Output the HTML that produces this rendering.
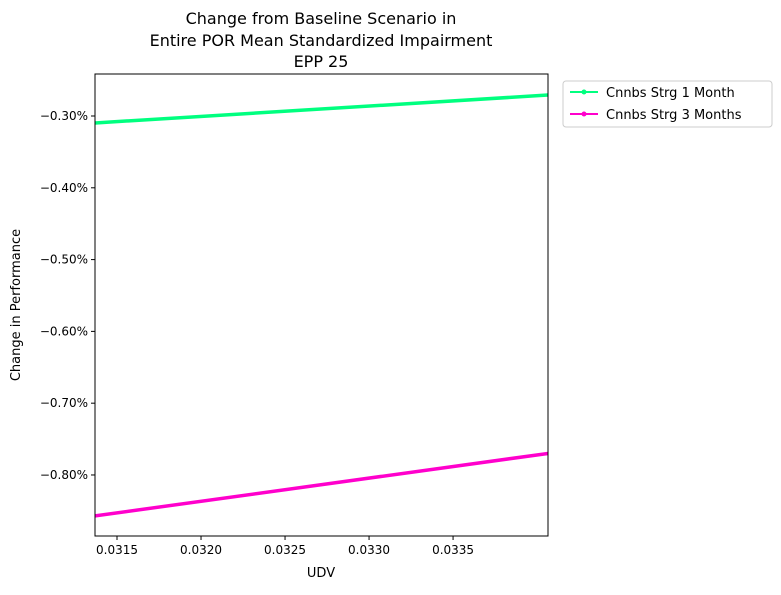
<!DOCTYPE html>
<html><head><meta charset="utf-8"><style>
body{margin:0;background:#fff;font-family:"Liberation Sans","DejaVu Sans",sans-serif;}
svg text{font-family:"DejaVu Sans","Liberation Sans",sans-serif;fill:#000;}
</style></head><body>
<svg id="chart" width="781" height="590" xmlns="http://www.w3.org/2000/svg">
<text x="321" y="24" font-size="16" text-anchor="middle">Change from Baseline Scenario in</text>
<text x="321" y="46" font-size="16" text-anchor="middle">Entire POR Mean Standardized Impairment</text>
<text x="321" y="67" font-size="16" text-anchor="middle">EPP 25</text>
<g id="plot"></g>
<text x="321" y="577" font-size="13" text-anchor="middle">UDV</text>
<text transform="translate(20,305) rotate(-90)" font-size="13" text-anchor="middle">Change in Performance</text>
<g>
<rect x="563" y="81" width="209" height="46" fill="#fff" stroke="#ccc" rx="3"/>
<g>
<line x1="570" y1="92" x2="598" y2="92" stroke="#00ff7f" stroke-width="2"/><circle cx="584" cy="92" r="2.5" fill="#00ff7f"/>
<text x="606" y="97" font-size="13">Cnnbs Strg 1 Month</text></g>
<g>
<line x1="570" y1="114" x2="598" y2="114" stroke="#ff00cc" stroke-width="2"/><circle cx="584" cy="114" r="2.5" fill="#ff00cc"/>
<text x="606" y="119" font-size="13">Cnnbs Strg 3 Months</text></g>
</g>
</svg>
<script>
const xValues=[0.031369,0.034065];
const series1Month=[-0.3097,-0.2708];
const series3Months=[-0.857,-0.770];
const xTicks=[0.0315,0.0320,0.0325,0.0330,0.0335];
const yTicks=[-0.3,-0.4,-0.5,-0.6,-0.7,-0.8];
const L=95,R=548,T=74,B=536;
const xMin=0.031369,xMax=0.034065,yMin=-0.8850,yMax=-0.2415;
const sx=v=>L+(v-xMin)/(xMax-xMin)*(R-L);
const sy=v=>B-(v-yMin)/(yMax-yMin)*(B-T);
const NS="http://www.w3.org/2000/svg";
const g=document.getElementById('plot');
function mk(t,a){const e=document.createElementNS(NS,t);for(const k in a)e.setAttribute(k,a[k]);g.appendChild(e);return e;}
xTicks.forEach(v=>{const x=sx(v);
const l=mk('line',{x1:x,y1:B,x2:x,y2:B+4,stroke:'#000'});


const t=mk('text',{x:x,y:B+18,'font-size':12,'text-anchor':'middle'});t.textContent=v.toFixed(4);

});
yTicks.forEach(v=>{const y=sy(v);
const l=mk('line',{x1:L-4,y1:y,x2:L,y2:y,stroke:'#000'});


const t=mk('text',{x:L-7,y:y+4,'font-size':12,'text-anchor':'end'});t.textContent='\u2212'+Math.abs(v).toFixed(2)+'%';

});
function line(vals,color,name){const p=mk('polyline',{points:xValues.map((x,i)=>sx(x)+','+sy(vals[i])).join(' '),fill:'none',stroke:color,'stroke-width':3.5,'clip-path':'url(#clip)'});

}
const defs=mk('defs',{});const cp=document.createElementNS(NS,'clipPath');cp.setAttribute('id','clip');
const cr=document.createElementNS(NS,'rect');cr.setAttribute('x',L);cr.setAttribute('y',T);cr.setAttribute('width',R-L);cr.setAttribute('height',B-T);cp.appendChild(cr);defs.appendChild(cp);
line(series1Month,'#00ff7f','line-1-month');
line(series3Months,'#ff00cc','line-3-months');
const f=mk('rect',{x:L,y:T,width:R-L,height:B-T,fill:'none',stroke:'#000','stroke-width':1});


</script>
</body></html>
